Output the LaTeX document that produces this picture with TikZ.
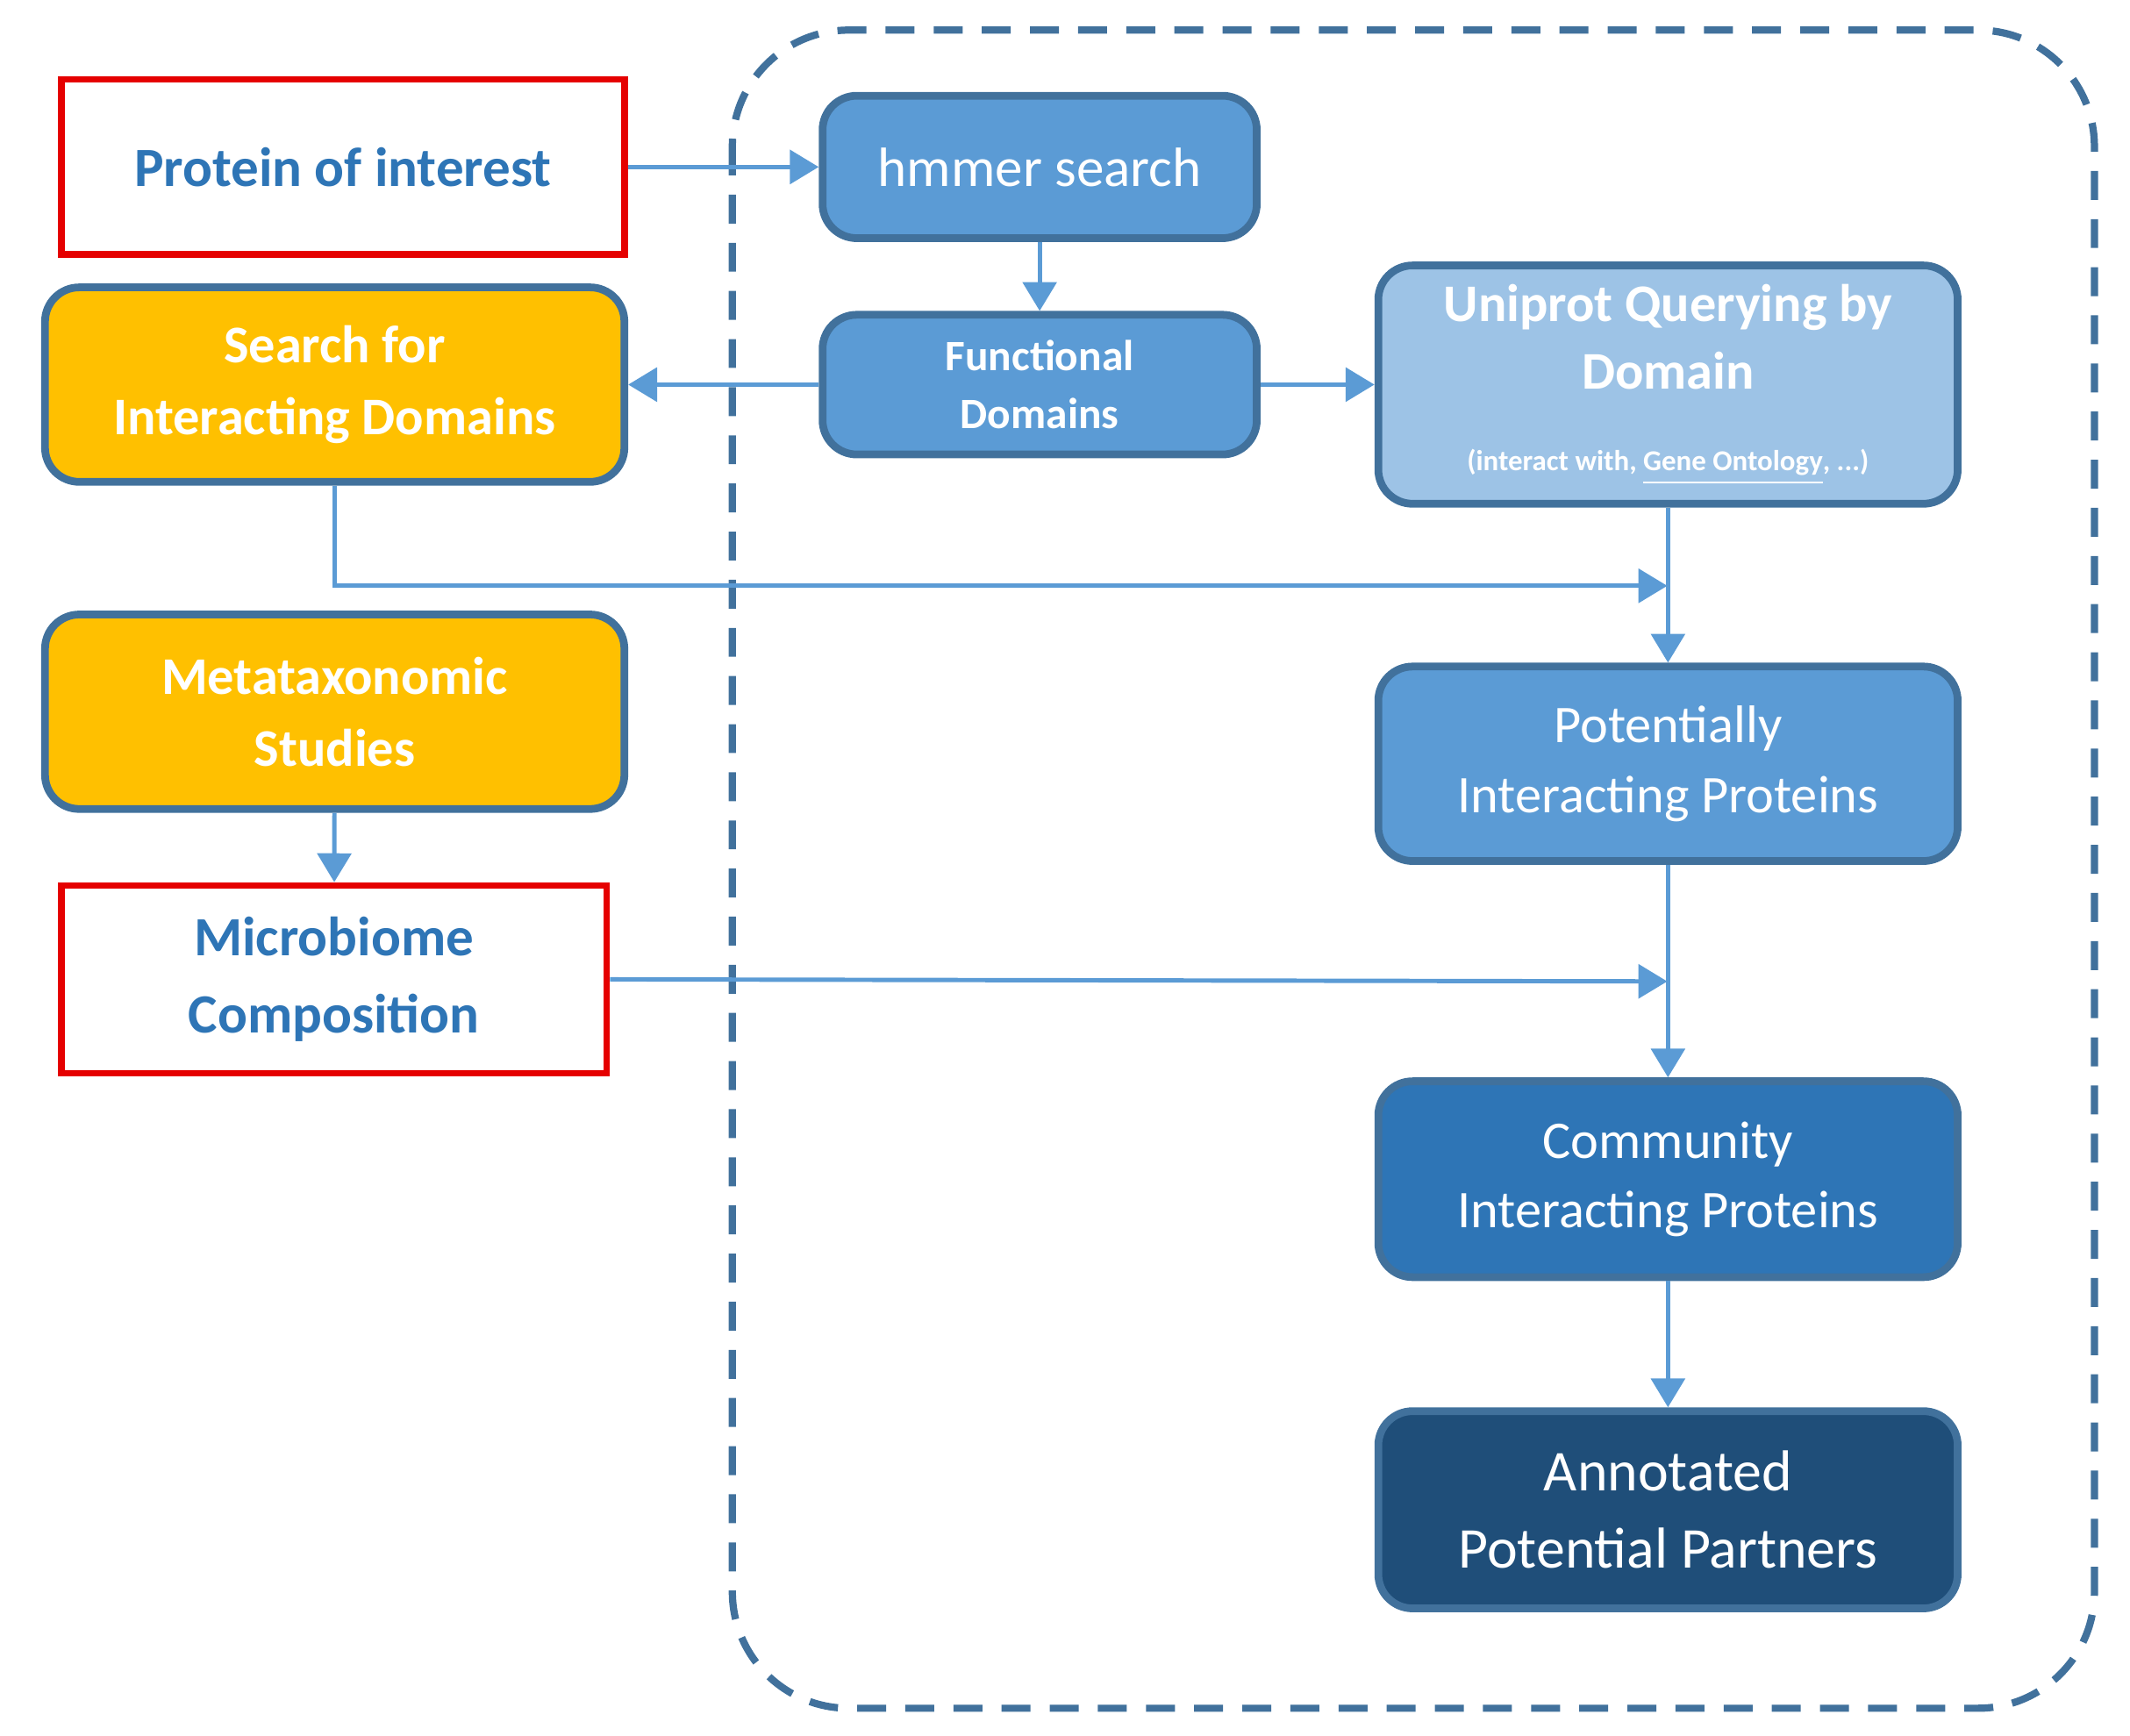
\documentclass[tikz,border=0pt]{standalone}
\usepackage{fontspec}
\setmainfont{Carlito}
\usetikzlibrary{arrows.meta}
\definecolor{bl}{HTML}{5B9BD5}
\definecolor{bd}{HTML}{41719C}
\definecolor{lb}{HTML}{9DC3E6}
\definecolor{mb}{HTML}{2E75B6}
\definecolor{db}{HTML}{1F4E79}
\definecolor{og}{HTML}{FFC000}
\definecolor{tb}{HTML}{2E75B6}
\begin{document}
\begin{tikzpicture}[x=0.01cm,y=-0.01cm,
  box/.style={draw=bd,line width=1.6pt,rounded corners=0.25cm,text=white,align=center,inner sep=0pt},
  red/.style={draw=red!90!black,line width=1.4pt,text=tb,align=center,inner sep=0pt,font=\bfseries\fontsize{11.5}{15.5}\selectfont},
  arr/.style={draw=bl,line width=0.9pt,-{Triangle[length=6pt,width=7pt]}}]
\useasboundingbox (0,0) rectangle (1556,1268);
\draw[bd,line width=1.5pt,dash pattern=on 6pt off 4pt,rounded corners=0.85cm] (535,22) rectangle (1530,1248);
\node[red,minimum width=4.11cm,minimum height=1.28cm] (poi) at (250.5,122) {Protein of interest};
\node[box,fill=bl,minimum width=3.17cm,minimum height=1.04cm,font=\fontsize{11.5}{14}\selectfont] (hm) at (759.5,122) {hmmer search};
\node[box,fill=bl,minimum width=3.17cm,minimum height=1.02cm,font=\bfseries\fontsize{9}{12}\selectfont] (fd) at (759.5,281) {Functional\\Domains};
\node[box,fill=og,minimum width=4.23cm,minimum height=1.42cm,font=\bfseries\fontsize{11}{15}\selectfont] (sid) at (244.5,281) {Search for\\Interacting Domains};
\node[box,fill=lb,minimum width=4.23cm,minimum height=1.74cm,font=\bfseries\fontsize{11}{14}\selectfont] (uq) at (1218.5,281) {Uniprot Querying by\\Domain\\[3pt]\fontsize{6}{8}\selectfont (interact with, \underline{Gene Ontology}, ...)};
\node[box,fill=og,minimum width=4.23cm,minimum height=1.42cm,font=\bfseries\fontsize{11}{15}\selectfont] (ms) at (244.5,520) {Metataxonomic\\Studies};
\node[red,minimum width=3.98cm,minimum height=1.37cm,font=\bfseries\fontsize{11.5}{16}\selectfont] (mc) at (244,715.5) {Microbiome\\Composition};
\node[box,fill=bl,minimum width=4.23cm,minimum height=1.42cm,font=\fontsize{11}{14.5}\selectfont] (pip) at (1218.5,558) {Potentially\\Interacting Proteins};
\node[box,fill=mb,minimum width=4.23cm,minimum height=1.43cm,font=\fontsize{11}{14.5}\selectfont] (cip) at (1218.5,861.5) {Community\\Interacting Proteins};
\node[box,fill=db,minimum width=4.23cm,minimum height=1.44cm,font=\fontsize{12}{16}\selectfont] (app) at (1218.5,1103) {Annotated\\Potential Partners};
\coordinate (j1) at (1218,428);
\coordinate (j2) at (1218,717);
\draw[arr] (poi.east) -- (hm.west);
\draw[arr] (hm) -- (fd);
\draw[arr] (fd.west) -- (sid.east);
\draw[arr] (fd.east) -- (uq.west);
\draw[arr] (sid.south) |- (j1);
\draw[arr] (uq) -- (pip);
\draw[arr] (mc.east) -- (j2);
\draw[arr] (pip) -- (cip);
\draw[arr] (ms) -- (mc);
\draw[arr] (cip) -- (app);
\end{tikzpicture}
\end{document}
